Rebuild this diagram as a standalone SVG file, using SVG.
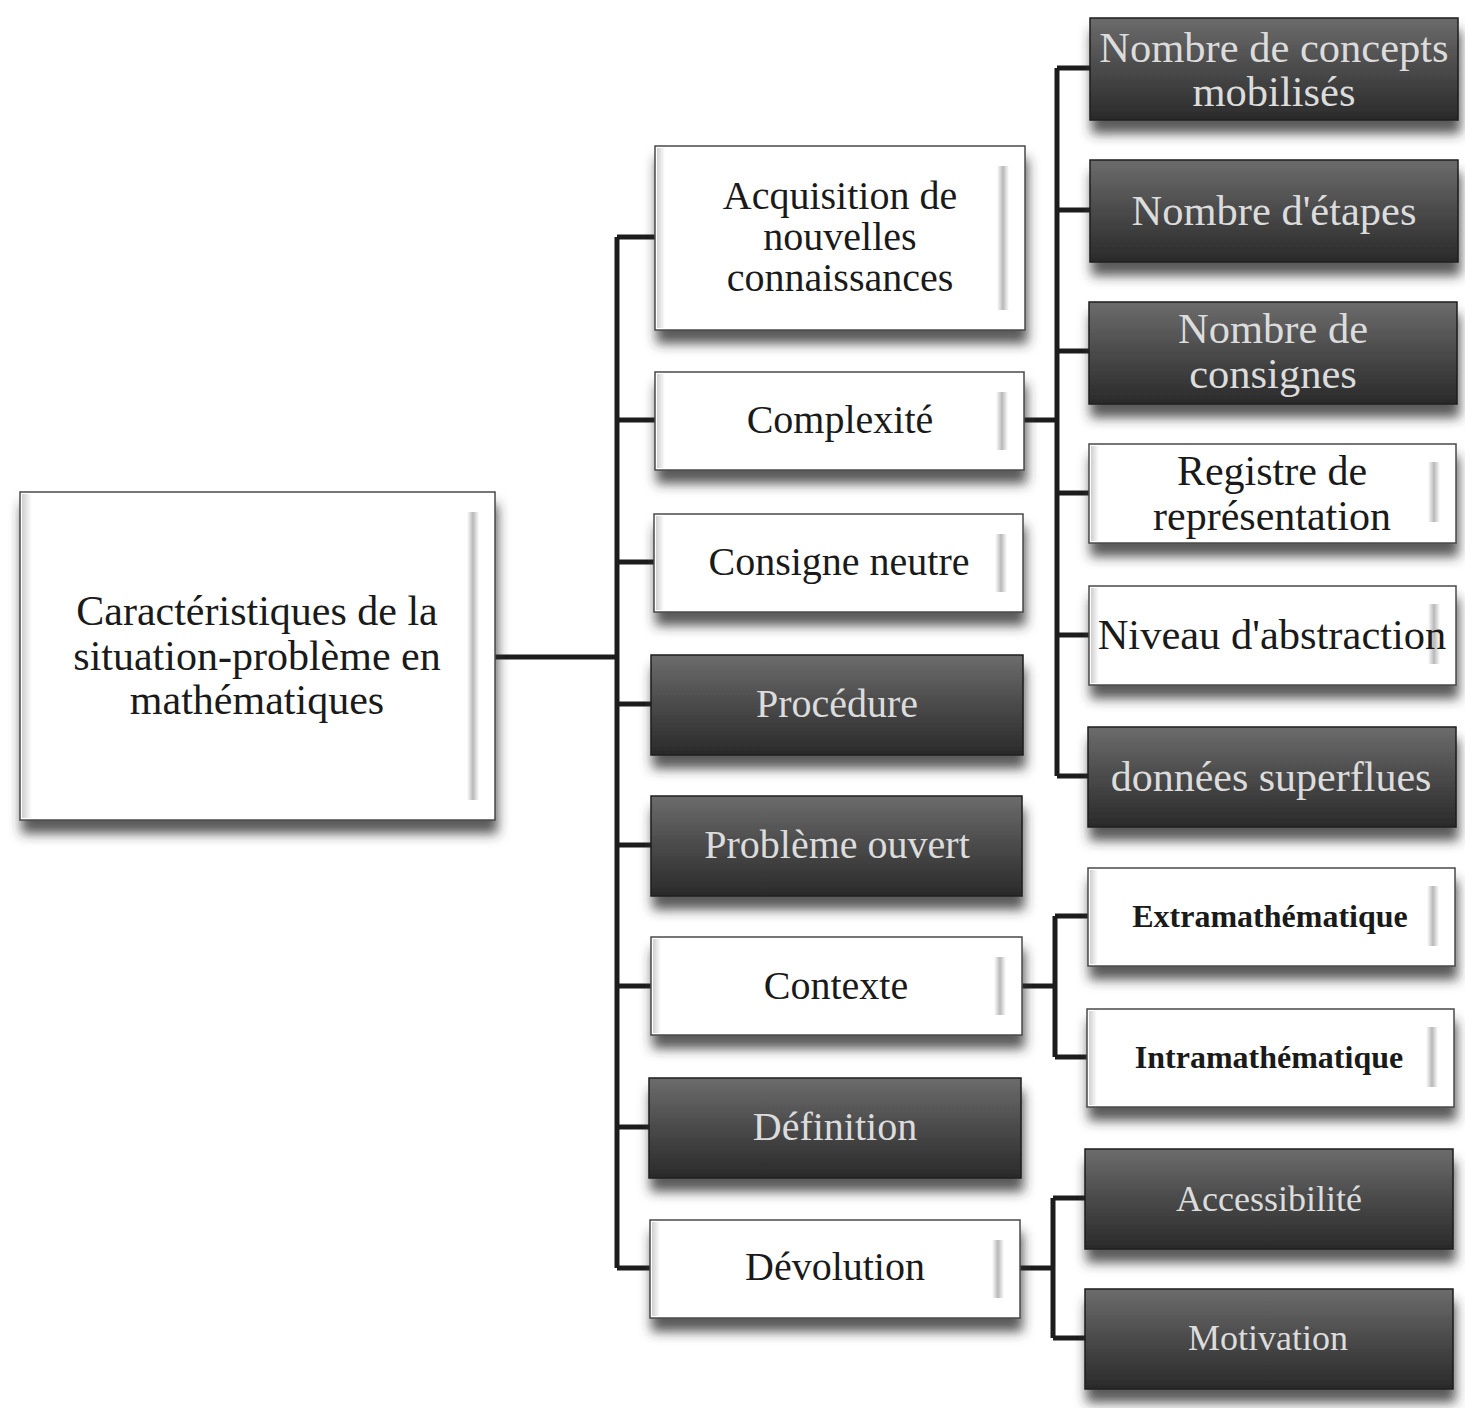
<svg xmlns="http://www.w3.org/2000/svg" width="1465" height="1408" viewBox="0 0 1465 1408">
  <defs>
    <filter id="shadow" x="-10%" y="-20%" width="125%" height="160%">
      <feDropShadow dx="2" dy="13" stdDeviation="6" flood-color="#333333" flood-opacity="0.8"/>
    </filter>
    <linearGradient id="darkFill" x1="0" y1="0" x2="0" y2="1">
      <stop offset="0" stop-color="#6c6c6c"/>
      <stop offset="0.5" stop-color="#4a4a4a"/>
      <stop offset="1" stop-color="#2a2a2a"/>
    </linearGradient>
    <linearGradient id="bevelR" x1="0" y1="0" x2="1" y2="0">
      <stop offset="0" stop-color="#ffffff"/>
      <stop offset="0.5" stop-color="#b8b8b8"/>
      <stop offset="1" stop-color="#ffffff"/>
    </linearGradient>
    <linearGradient id="bevelL" x1="0" y1="0" x2="1" y2="0">
      <stop offset="0" stop-color="#cfcfcf"/>
      <stop offset="1" stop-color="#ffffff"/>
    </linearGradient>
  </defs>
  <style>
    .light { fill: #ffffff; stroke: #4a4a4a; stroke-width: 1.5; filter: url(#shadow); }
    .dark { fill: url(#darkFill); stroke: #1e1e1e; stroke-width: 1.5; filter: url(#shadow); }
    .bevel { fill: url(#bevelR); }
    .bevelL { fill: url(#bevelL); }
    text { font-family: "Liberation Serif", "Times New Roman", serif; text-anchor: middle; }
    .t-dark { fill: #1a1a1a; }
    .t-light { fill: #dcdcdc; }
    .bold { font-weight: bold; }
    .conn { fill: none; stroke: #1c1c1c; stroke-width: 5; stroke-linejoin: miter; }
  </style>
  <rect width="1465" height="1408" fill="#ffffff"/>

  <!-- connectors -->
  <g id="connectors" class="conn">
    <path d="M495 657 H617"/>
    <path d="M617 237 V1268"/>
    <path d="M617 237 H655 M617 420 H655 M617 562 H655 M617 704 H652 M617 845 H652 M617 986 H652 M617 1127 H650 M617 1268 H650"/>
    <path d="M1024 420 H1057"/>
    <path d="M1057 68 V776"/>
    <path d="M1057 68 H1090 M1057 210 H1090 M1057 351 H1090 M1057 493 H1090 M1057 635 H1090 M1057 776 H1088"/>
    <path d="M1022 986 H1055"/>
    <path d="M1055 916 V1057"/>
    <path d="M1055 916 H1088 M1055 1057 H1088"/>
    <path d="M1020 1268 H1053"/>
    <path d="M1053 1198 V1338"/>
    <path d="M1053 1198 H1086 M1053 1338 H1086"/>
  </g>

  <!-- root -->
  <g id="root">
    <rect class="light" x="20" y="492" width="475" height="328"/>
    <rect class="bevelL" x="22" y="494" width="10" height="324"/>
    <rect class="bevel" x="467" y="512" width="12" height="288"/>
    <text class="t-dark" font-size="42"><tspan x="257" y="625">Caractéristiques de la</tspan><tspan x="257" y="670">situation-problème en</tspan><tspan x="257" y="714">mathématiques</tspan></text>
  </g>

  <!-- middle column -->
  <g id="acquisition">
    <rect class="light" x="655" y="146" width="370" height="184"/>
    <rect class="bevelL" x="657" y="148" width="8" height="180"/>
    <rect class="bevel" x="997" y="166" width="12" height="144"/>
    <text class="t-dark" font-size="40"><tspan x="840" y="209">Acquisition de</tspan><tspan x="840" y="250">nouvelles</tspan><tspan x="840" y="291">connaissances</tspan></text>
  </g>
  <g id="complexite">
    <rect class="light" x="655" y="372" width="369" height="98"/>
    <rect class="bevelL" x="657" y="374" width="8" height="94"/>
    <rect class="bevel" x="996" y="392" width="12" height="58"/>
    <text class="t-dark" font-size="40" x="840" y="433">Complexité</text>
  </g>
  <g id="consigne-neutre">
    <rect class="light" x="654" y="514" width="369" height="98"/>
    <rect class="bevelL" x="656" y="516" width="8" height="94"/>
    <rect class="bevel" x="995" y="534" width="12" height="58"/>
    <text class="t-dark" font-size="40" x="839" y="575">Consigne neutre</text>
  </g>
  <g id="procedure">
    <rect class="dark" x="651" y="655" width="372" height="100"/>
    <text class="t-light" font-size="40" x="837" y="717">Procédure</text>
  </g>
  <g id="probleme-ouvert">
    <rect class="dark" x="651" y="796" width="371" height="100"/>
    <text class="t-light" font-size="40" x="837" y="858">Problème ouvert</text>
  </g>
  <g id="contexte">
    <rect class="light" x="651" y="937" width="371" height="98"/>
    <rect class="bevelL" x="653" y="939" width="8" height="94"/>
    <rect class="bevel" x="994" y="957" width="12" height="58"/>
    <text class="t-dark" font-size="40" x="836" y="999">Contexte</text>
  </g>
  <g id="definition">
    <rect class="dark" x="649" y="1078" width="372" height="100"/>
    <text class="t-light" font-size="40" x="835" y="1140">Définition</text>
  </g>
  <g id="devolution">
    <rect class="light" x="650" y="1220" width="370" height="98"/>
    <rect class="bevelL" x="652" y="1222" width="8" height="94"/>
    <rect class="bevel" x="992" y="1240" width="12" height="58"/>
    <text class="t-dark" font-size="40" x="835" y="1280">Dévolution</text>
  </g>

  <!-- right column -->
  <g id="concepts">
    <rect class="dark" x="1090" y="18" width="368" height="102"/>
    <text class="t-light" font-size="42.5"><tspan x="1274" y="62">Nombre de concepts</tspan><tspan x="1274" y="106">mobilisés</tspan></text>
  </g>
  <g id="etapes">
    <rect class="dark" x="1090" y="160" width="368" height="102"/>
    <text class="t-light" font-size="42.5" x="1274" y="225">Nombre d'étapes</text>
  </g>
  <g id="consignes">
    <rect class="dark" x="1089" y="302" width="368" height="102"/>
    <text class="t-light" font-size="42.5"><tspan x="1273" y="343">Nombre de</tspan><tspan x="1273" y="388">consignes</tspan></text>
  </g>
  <g id="registre">
    <rect class="light" x="1089" y="444" width="367" height="99"/>
    <rect class="bevelL" x="1091" y="446" width="8" height="95"/>
    <rect class="bevel" x="1428" y="462" width="12" height="60"/>
    <text class="t-dark" font-size="42"><tspan x="1272" y="485">Registre de</tspan><tspan x="1272" y="530">représentation</tspan></text>
  </g>
  <g id="abstraction">
    <rect class="light" x="1089" y="586" width="367" height="99"/>
    <rect class="bevelL" x="1091" y="588" width="8" height="95"/>
    <rect class="bevel" x="1428" y="604" width="12" height="60"/>
    <text class="t-dark" font-size="42.5" x="1272" y="649">Niveau d'abstraction</text>
  </g>
  <g id="superflues">
    <rect class="dark" x="1088" y="727" width="368" height="100"/>
    <text class="t-light" font-size="42" x="1271" y="791">données superflues</text>
  </g>
  <g id="extramathematique">
    <rect class="light" x="1088" y="868" width="367" height="98"/>
    <rect class="bevelL" x="1090" y="870" width="8" height="94"/>
    <rect class="bevel" x="1427" y="886" width="12" height="60"/>
    <text class="t-dark bold" font-size="32" x="1270" y="927">Extramathématique</text>
  </g>
  <g id="intramathematique">
    <rect class="light" x="1087" y="1009" width="367" height="98"/>
    <rect class="bevelL" x="1089" y="1011" width="8" height="94"/>
    <rect class="bevel" x="1426" y="1027" width="12" height="60"/>
    <text class="t-dark bold" font-size="32" x="1269" y="1068">Intramathématique</text>
  </g>
  <g id="accessibilite">
    <rect class="dark" x="1085" y="1149" width="368" height="100"/>
    <text class="t-light" font-size="36" x="1269" y="1211">Accessibilité</text>
  </g>
  <g id="motivation">
    <rect class="dark" x="1085" y="1289" width="368" height="100"/>
    <text class="t-light" font-size="36" x="1268" y="1350">Motivation</text>
  </g>
</svg>
